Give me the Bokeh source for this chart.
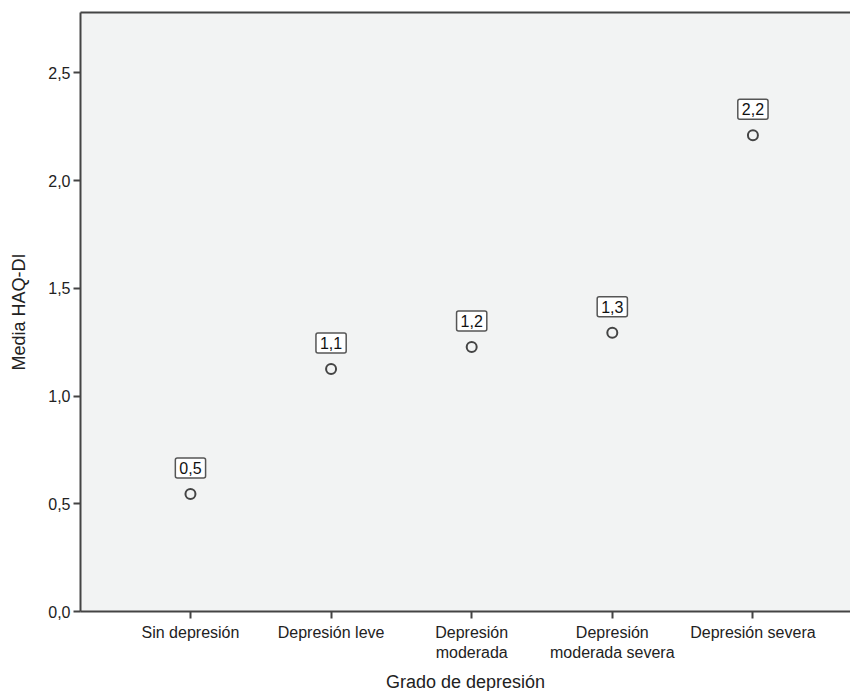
from bokeh.plotting import figure
from bokeh.models import (Range1d, FixedTicker, LinearAxis, CustomJSTickFormatter,
                          ColumnDataSource)
from bokeh.core.properties import value
from bokeh.embed import file_html
from bokeh.resources import INLINE

categories = ["Sin depresión", "Depresión leve", "Depresión\nmoderada",
              "Depresión\nmoderada severa", "Depresión severa"]
means = [0.545, 1.125, 1.228, 1.294, 2.21]
labels = ["0,5", "1,1", "1,2", "1,3", "2,2"]
y_ticks = [0.0, 0.5, 1.0, 1.5, 2.0, 2.5]

FONT = "Liberation Sans"
AX = "#444444"

xs = list(range(len(categories)))
src = ColumnDataSource(dict(x=xs, y=means, lab=labels))

p = figure(output_backend="svg", toolbar_location=None,
           frame_width=770, frame_height=599,
           x_range=Range1d(-0.782, 4.694), y_range=Range1d(0, 2.78),
           min_border_left=80, min_border_top=12, min_border_right=0,
           min_border_bottom=10,
           background_fill_color="#f2f3f3", border_fill_color="white",
           outline_line_color=None)
p.grid.visible = False

p.scatter("x", "y", source=src, marker="circle", size=10,
          fill_color=None, line_color=AX, line_width=2)

p.text(x="x", y="y", text="lab", source=src, y_offset=-26,
       text_align="center", text_baseline="middle",
       text_font=value(FONT), text_font_size="16px", text_color="#111111",
       background_fill_color="white",
       border_line_color="#555555", border_line_width=1.5,
       padding=4, border_radius=2)

# x axis
xa = p.xaxis[0]
xa.ticker = FixedTicker(ticks=xs)
xa.major_label_overrides = {i: c for i, c in zip(xs, categories)}
xa.axis_label = "Grado de depresión"
# y axis
ya = p.yaxis[0]
ya.ticker = FixedTicker(ticks=y_ticks)
ya.formatter = CustomJSTickFormatter(code="return tick.toFixed(1).replace('.', ',');")
ya.axis_label = "Media HAQ-DI"

for ax in (xa, ya):
    ax.axis_line_color = AX
    ax.axis_line_width = 2
    ax.major_tick_line_color = AX
    ax.major_tick_line_width = 2
    ax.major_tick_out = 7
    ax.major_tick_in = 0
    ax.minor_tick_line_color = None
    ax.major_label_text_font = FONT
    ax.major_label_text_font_size = "16px"
    ax.major_label_text_color = "#222222"
    ax.axis_label_text_font = FONT
    ax.axis_label_text_font_size = "18px"
    ax.axis_label_text_font_style = "normal"
    ax.axis_label_text_color = "#222222"
xa.major_label_standoff = 5
ya.major_label_standoff = 3
xa.axis_label_standoff = 8
ya.axis_label_standoff = 16

top = LinearAxis(ticker=FixedTicker(ticks=[]), axis_line_color=AX,
                 axis_line_width=2, major_tick_line_color=None,
                 minor_tick_line_color=None, major_label_text_font_size="0px")
p.add_layout(top, "above")

open("out.html", "w").write(file_html(p, INLINE))
